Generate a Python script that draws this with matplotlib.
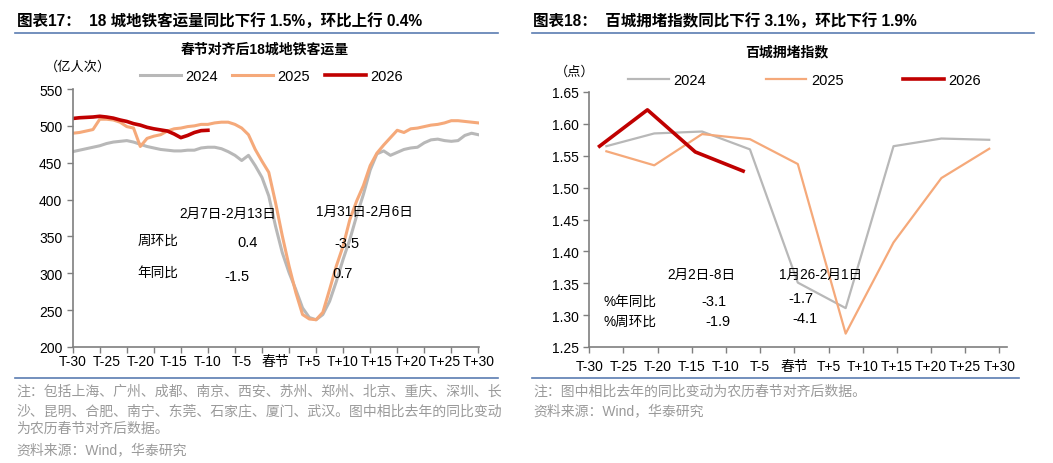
import numpy as np
import matplotlib
matplotlib.use("Agg")
import matplotlib.pyplot as plt
from matplotlib.lines import Line2D

plt.rcParams['font.family'] = ['Liberation Sans', 'Noto Sans CJK SC', 'DejaVu Sans']

W, H = 1053, 464

# ---- 图表17: 18城地铁客运量 (亿人次), T-30 .. T+30
days = np.arange(-30, 31)
metro_2024 = [465, 467, 469, 471, 473, 476, 478, 479, 480, 478,
              475, 472, 470, 468, 467, 466, 466, 467, 467, 470,
              471, 471, 469, 465, 460, 453, 460, 446, 430, 405,
              364, 328, 301, 278, 253, 240, 237, 244, 262, 289,
              319, 346, 378, 407, 440, 462, 466, 460, 464, 468,
              470, 471, 477, 481, 482, 480, 479, 480, 487, 490, 488]
metro_2025 = [490, 491, 493, 495, 509, 509, 508, 505, 499, 497,
              472, 483, 486, 488, 493, 496, 497, 499, 500, 502,
              502, 504, 505, 505, 502, 497, 488, 468, 452, 437,
              396, 351, 310, 274, 244, 238, 237, 247, 278, 310,
              337, 373, 398, 419, 446, 463, 474, 484, 494, 491,
              496, 497, 499, 501, 502, 504, 507, 507, 506, 505, 504]
metro_2026 = [510, 511, 511.5, 512, 513, 512, 510.5, 508, 506, 503,
              501, 498, 496, 494.5, 493, 489, 484, 487, 491, 493.5, 494]
days_2026 = np.arange(-30, -30 + len(metro_2026))

# ---- 图表18: 百城拥堵指数 (点), weekly points
week_x_prev = [-27.5, -20.5, -13.5, -6.5, 0.5, 7.5, 14.5, 21.5, 28.5]
jam_2024 = [1.565, 1.585, 1.588, 1.560, 1.351, 1.311, 1.565, 1.577, 1.575]
jam_2025 = [1.557, 1.535, 1.584, 1.576, 1.537, 1.271, 1.414, 1.515, 1.561]
week_x_2026 = [-28.5, -21.5, -14.5, -7.5]
jam_2026 = [1.565, 1.622, 1.556, 1.526]

xlabels = ['T-30', 'T-25', 'T-20', 'T-15', 'T-10', 'T-5', '春节',
           'T+5', 'T+10', 'T+15', 'T+20', 'T+25', 'T+30']
xlabel_pos = np.arange(-30, 31, 5)

c24, c25, c26 = '#B8B8B8', '#F5A97A', '#C00000'
axis_grey = '#7F7F7F'
blue = '#5B7DB1'
note_grey = '#9A9A9A'


def fx(x):
    return x / W


def fy(y):
    return 1 - y / H


fig = plt.figure(figsize=(W / 100, H / 100), dpi=100)


def style_axes(ax):
    for s in ['top', 'right']:
        ax.spines[s].set_visible(False)
    for s in ['left', 'bottom']:
        ax.spines[s].set_color(axis_grey)
        ax.spines[s].set_linewidth(1.2)
    ax.tick_params(axis='both', colors=axis_grey, labelcolor='black',
                   labelsize=10, width=1.0, length=4)
    ax.tick_params(axis='x', which='minor', length=0, labelsize=10,
                   labelcolor='black', pad=5)
    ax.xaxis.remove_overlapping_locs = False


# ---------------- left chart ----------------
ax1 = fig.add_axes([fx(72.7), fy(348), fx(479 - 72.7), (348 - 90) / H])
ax1.plot(days, metro_2024, color=c24, lw=2.2, label='2024')
ax1.plot(days, metro_2025, color=c25, lw=2.2, label='2025')
ax1.plot(days_2026, metro_2026, color=c26, lw=2.6, label='2026')
ax1.set_xlim(-30, 30.1)
ax1.set_ylim(200, 550)
ax1.set_yticks(np.arange(200, 551, 50))
ax1.set_xticks(np.arange(-30, 31, 4))
ax1.set_xticklabels([])
ax1.set_xticks(xlabel_pos, minor=True)
ax1.set_xticklabels(xlabels, minor=True)
style_axes(ax1)
ax1.legend(ncol=3, frameon=False, loc='center left',
           bbox_to_anchor=(fx(140), fy(77)), bbox_transform=fig.transFigure,
           fontsize=10.5, handlelength=2.8, handletextpad=0.3,
           columnspacing=1.0, borderpad=0, borderaxespad=0)

# ---------------- right chart ----------------
ax2 = fig.add_axes([fx(589.3), fy(348), fx(1007 - 589.3), (348 - 93) / H])
ax2.plot(week_x_prev, jam_2024, color=c24, lw=1.6, label='2024')
ax2.plot(week_x_prev, jam_2025, color=c25, lw=1.6, label='2025')
ax2.plot(week_x_2026, jam_2026, color=c26, lw=2.6, label='2026')
ax2.set_xlim(-30, 31.1)
ax2.set_ylim(1.25, 1.65)
ax2.set_yticks(np.arange(1.25, 1.651, 0.05))
ax2.set_yticklabels([f'{v:.2f}' for v in np.arange(1.25, 1.651, 0.05)])
ax2.set_xticks(xlabel_pos)
ax2.set_xticklabels(xlabels)
style_axes(ax2)
ax2.tick_params(axis='x', which='major', pad=5)
ax2.legend(ncol=3, frameon=False, loc='center left',
           bbox_to_anchor=(fx(628), fy(81)), bbox_transform=fig.transFigure,
           fontsize=10.5, handlelength=2.8, handletextpad=0.3,
           columnspacing=4.1, borderpad=0, borderaxespad=0)

# ---------------- headings ----------------
fig.text(fx(17), fy(22), '图表17：  18 城地铁客运量同比下行 1.5%，环比上行 0.4%',
         fontsize=11.2, fontweight='bold', va='center')
fig.text(fx(533), fy(22), '图表18：  百城拥堵指数同比下行 3.1%，环比下行 1.9%',
         fontsize=11.2, fontweight='bold', va='center')
fig.add_artist(Line2D([fx(15), fx(498)], [fy(34), fy(34)], color=blue, lw=1.2))
fig.add_artist(Line2D([fx(532), fx(1034)], [fy(34), fy(34)], color=blue, lw=1.2))
fig.add_artist(Line2D([fx(15), fx(498)], [fy(379), fy(379)], color=blue, lw=1.2))
fig.add_artist(Line2D([fx(532), fx(1019)], [fy(379), fy(379)], color=blue, lw=1.2))

fig.text(fx(265), fy(50), '春节对齐后18城地铁客运量', fontsize=10,
         fontweight='bold', ha='center', va='center')
fig.text(fx(787), fy(52), '百城拥堵指数', fontsize=10,
         fontweight='bold', ha='center', va='center')
fig.text(fx(45), fy(67), '（亿人次）', fontsize=9.5, va='center')
fig.text(fx(555), fy(72), '（点）', fontsize=9.5, va='center')

# ---------------- annotations ----------------
ann = dict(fontsize=9.8, va='center')
fig.text(fx(179), fy(214), '2月7日-2月13日', **ann)
fig.text(fx(138), fy(241), '周环比', **ann)
fig.text(fx(248), fy(243), '0.4', fontsize=10.5, ha='center', va='center')
fig.text(fx(137), fy(273), '年同比', **ann)
fig.text(fx(237), fy(277), '-1.5', fontsize=10.5, ha='center', va='center')
fig.text(fx(316), fy(212), '1月31日-2月6日', **ann)
fig.text(fx(347), fy(244), '-3.5', fontsize=10.5, ha='center', va='center')
fig.text(fx(343), fy(274), '0.7', fontsize=10.5, ha='center', va='center')

fig.text(fx(667), fy(275), '2月2日-8日', **ann)
fig.text(fx(604), fy(302), '%年同比', **ann)
fig.text(fx(714), fy(302), '-3.1', fontsize=10.5, ha='center', va='center')
fig.text(fx(604), fy(322), '%周环比', **ann)
fig.text(fx(718), fy(322), '-1.9', fontsize=10.5, ha='center', va='center')
fig.text(fx(779), fy(275), '1月26-2月1日', **ann)
fig.text(fx(801), fy(299), '-1.7', fontsize=10.5, ha='center', va='center')
fig.text(fx(805), fy(319), '-4.1', fontsize=10.5, ha='center', va='center')

# ---------------- notes ----------------
note = dict(fontsize=10, color=note_grey, va='center')
fig.text(fx(16), fy(392), '注：包括上海、广州、成都、南京、西安、苏州、郑州、北京、重庆、深圳、长', **note)
fig.text(fx(16), fy(411), '沙、昆明、合肥、南宁、东莞、石家庄、厦门、武汉。图中相比去年的同比变动', **note)
fig.text(fx(16), fy(429), '为农历春节对齐后数据。', **note)
fig.text(fx(16), fy(450), '资料来源：Wind，华泰研究', **note)
fig.text(fx(533), fy(392), '注：图中相比去年的同比变动为农历春节对齐后数据。', **note)
fig.text(fx(533), fy(411), '资料来源：Wind，华泰研究', **note)

fig.savefig('out.png', dpi=100)
